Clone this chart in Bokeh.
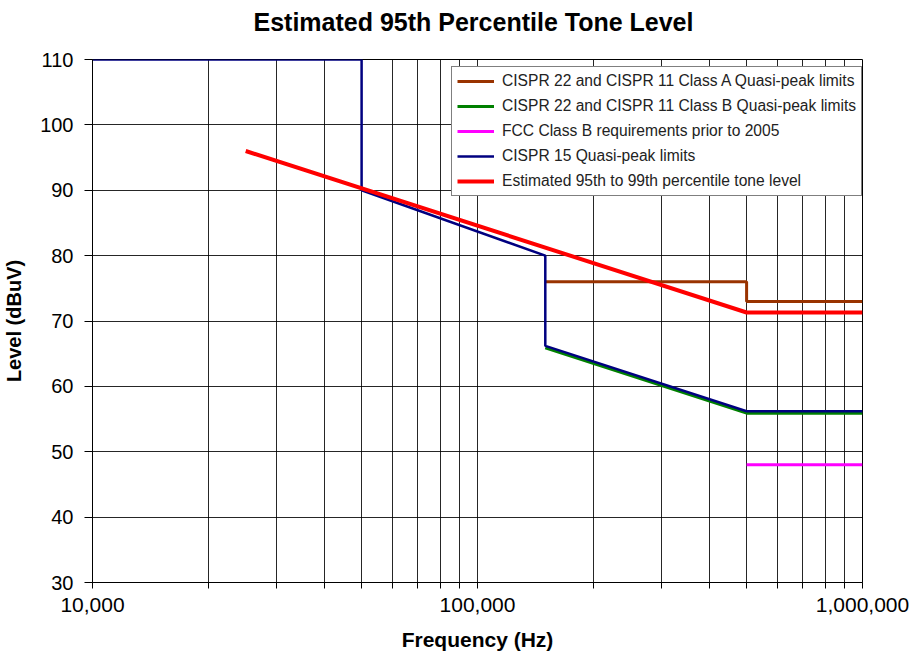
from bokeh.plotting import figure
from bokeh.models import FixedTicker, NumeralTickFormatter, Legend, LegendItem, Range1d, Title
from bokeh.embed import file_html
from bokeh.resources import INLINE

# ---------------- data ----------------
title_text = "Estimated 95th Percentile Tone Level"
x_label = "Frequency (Hz)"
y_label = "Level (dBuV)"

class_a_freq = [150000, 500000, 500000, 1000000]
class_a_level = [76, 76, 73, 73]

class_b_freq = [150000, 500000, 1000000]
class_b_level = [65.9, 55.9, 55.9]

fcc_b_freq = [500000, 1000000]
fcc_b_level = [48, 48]

cispr15_freq = [10000, 50000, 50000, 150000, 150000, 500000, 1000000]
cispr15_level = [110, 110, 90, 80, 66.2, 56.2, 56.2]

tone_freq = [25000, 500000, 1000000]
tone_level = [96, 71.3, 71.3]

legend_labels = [
    "CISPR 22 and CISPR 11 Class A Quasi-peak limits",
    "CISPR 22 and CISPR 11 Class B Quasi-peak limits",
    "FCC Class B requirements prior to 2005",
    "CISPR 15 Quasi-peak limits",
    "Estimated 95th to 99th percentile tone level",
]

x_major_ticks = [10000, 100000, 1000000]
x_minor_ticks = [20000, 30000, 40000, 50000, 60000, 70000, 80000, 90000,
                 200000, 300000, 400000, 500000, 600000, 700000, 800000, 900000]
y_ticks = [30, 40, 50, 60, 70, 80, 90, 100, 110]

# ---------------- figure ----------------
FONT = "Liberation Sans"

p = figure(width=916, height=656, x_axis_type="log",
           x_range=Range1d(10000, 1000000), y_range=Range1d(30, 110),
           output_backend="svg", toolbar_location=None,
           min_border_left=92, min_border_right=54,
           min_border_top=59, min_border_bottom=74)

# spacer between frame and title (added first -> closest to the frame)
spacer = Title(text=" ", text_font=FONT, text_font_size="10px", standoff=6)
p.add_layout(spacer, "above")
main_title = Title(text=title_text, align="left", offset=161, text_font=FONT,
                   text_font_size="25px", text_font_style="bold",
                   text_color="black", standoff=10)
p.add_layout(main_title, "above")

p.outline_line_color = "black"
p.outline_line_width = 1
p.background_fill_color = "white"
p.border_fill_color = "white"

# x axis
p.xaxis.ticker = FixedTicker(ticks=x_major_ticks, minor_ticks=x_minor_ticks)
p.xaxis.formatter = NumeralTickFormatter(format="0,0")
p.xaxis.axis_label = x_label
p.xaxis.major_tick_out = 6
p.xaxis.major_tick_in = 0
p.xaxis.minor_tick_out = 6
p.xaxis.minor_tick_in = 0
p.xaxis.major_label_standoff = 9
p.xaxis.axis_label_standoff = 13
p.xaxis.major_label_text_font_size = "21px"
p.xaxis.axis_label_text_font_size = "21px"

# y axis
p.yaxis.ticker = FixedTicker(ticks=y_ticks)
p.yaxis.axis_label = y_label
p.yaxis.major_tick_out = 8
p.yaxis.major_tick_in = 0
p.yaxis.minor_tick_out = 0
p.yaxis.minor_tick_in = 0
p.yaxis.major_label_standoff = 11
p.yaxis.axis_label_standoff = 12
p.yaxis.major_label_text_font_size = "20px"
p.yaxis.axis_label_text_font_size = "20px"

for ax in (p.xaxis, p.yaxis):
    ax.axis_line_color = "black"
    ax.major_tick_line_color = "black"
    ax.minor_tick_line_color = "black"
    ax.major_label_text_font = FONT
    ax.major_label_text_color = "black"
    ax.axis_label_text_font = FONT
    ax.axis_label_text_font_style = "bold"
    ax.axis_label_text_color = "black"

p.xgrid.ticker = p.xaxis.ticker
p.xgrid.grid_line_color = "black"
p.xgrid.grid_line_alpha = 0.85
p.xgrid.minor_grid_line_color = "black"
p.xgrid.minor_grid_line_alpha = 0.85
p.ygrid.grid_line_color = "black"
p.ygrid.grid_line_alpha = 0.85

# ---------------- lines ----------------
r_a = p.line(class_a_freq, class_a_level, line_color="#993300", line_width=3)
r_b = p.line(class_b_freq, class_b_level, line_color="#008000", line_width=3)
r_fcc = p.line(fcc_b_freq, fcc_b_level, line_color="#FF00FF", line_width=3)
r_15 = p.line(cispr15_freq, cispr15_level, line_color="#000080", line_width=2.5)
r_tone = p.line(tone_freq, tone_level, line_color="#FF0000", line_width=4)

renderers = [r_a, r_b, r_fcc, r_15, r_tone]
legend = Legend(items=[LegendItem(label=lab, renderers=[r]) for lab, r in zip(legend_labels, renderers)],
                location=(359, 386))
legend.label_text_font = FONT
legend.label_text_font_size = "15.6px"
legend.label_text_color = "#222222"
legend.glyph_width = 37
legend.glyph_height = 16
legend.label_height = 16
legend.label_standoff = 8
legend.spacing = 7
legend.padding = 5
legend.margin = 0
legend.border_line_color = "black"
legend.border_line_width = 1
legend.background_fill_color = "white"
legend.background_fill_alpha = 1
p.add_layout(legend, "center")

open("out.html", "w").write(file_html(p, INLINE))
